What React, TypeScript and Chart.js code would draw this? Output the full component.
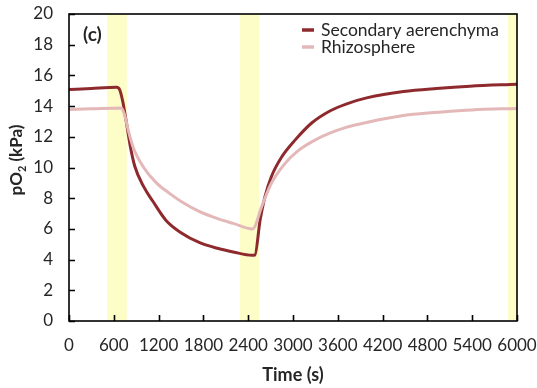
import { useEffect, useRef } from 'react';
import { Chart, registerables } from 'chart.js';

Chart.register(...registerables);

// ---- data ----
const seriesLabels = ['Secondary aerenchyma', 'Rhizosphere'];

const secondaryTime = [0, 300, 640, 680, 720, 770, 820, 880, 1000, 1130, 1300, 1500, 1750, 2000, 2200, 2450, 2490, 2560, 2625, 2710, 2850, 3030, 3250, 3500, 3720, 4000, 4480, 4920, 5370, 6000];
const secondaryPO2 = [15.08, 15.15, 15.22, 15.05, 14.3, 12.9, 11.4, 10.1, 8.75, 7.75, 6.55, 5.75, 5.1, 4.72, 4.5, 4.28, 4.3, 6.6, 8.1, 9.4, 10.7, 11.8, 12.9, 13.7, 14.15, 14.55, 14.95, 15.15, 15.3, 15.42];

const rhizoTime = [0, 300, 700, 740, 795, 860, 1000, 1170, 1350, 1530, 1750, 2000, 2200, 2460, 2580, 2710, 2900, 3070, 3300, 3500, 3700, 4000, 4500, 5000, 5400, 6000];
const rhizoPO2 = [13.78, 13.82, 13.88, 13.5, 12.4, 11.3, 10.0, 9.0, 8.3, 7.7, 7.12, 6.65, 6.36, 6.0, 7.45, 8.97, 10.3, 11.1, 11.8, 12.25, 12.6, 12.95, 13.4, 13.62, 13.75, 13.85];

const highlightStart = [510, 2290, 5880];
const highlightEnd = [775, 2545, 6000];

const xTickStep = 600;
const yTickStep = 2;
const panelLabel = '(c)';
const xTitle = 'Time (s)';

const FONT = 'Lato, "Open Sans", sans-serif';
const seriesColors = ['#8E2A2E', '#E4B8B8'];
const bandColor = '#FDFDC8';
const textColor = '#262626';

const decor = {
  id: 'decor',
  beforeDatasetsDraw(chart: any) {
    const { ctx, chartArea: a, scales } = chart;
    const x = scales.x;
    ctx.save();
    ctx.fillStyle = bandColor;
    for (let i = 0; i < highlightStart.length; i++) {
      const x0 = x.getPixelForValue(highlightStart[i]);
      const x1 = x.getPixelForValue(highlightEnd[i]);
      ctx.fillRect(x0, a.top, x1 - x0, a.bottom - a.top);
    }
    ctx.restore();
  },
  afterDatasetsDraw(chart: any) {
    const { ctx, chartArea: a, scales } = chart;
    const x = scales.x;
    const y = scales.y;
    ctx.save();
    // frame
    ctx.strokeStyle = '#000';
    ctx.lineWidth = 1.6;
    ctx.strokeRect(a.left, a.top, a.right - a.left, a.bottom - a.top);
    // inward ticks
    ctx.beginPath();
    for (const t of x.ticks) {
      const px = Math.round(x.getPixelForValue(t.value)) + 0.5;
      ctx.moveTo(px, a.bottom);
      ctx.lineTo(px, a.bottom - 6);
    }
    for (const t of y.ticks) {
      const py = Math.round(y.getPixelForValue(t.value)) + 0.5;
      ctx.moveTo(a.left, py);
      ctx.lineTo(a.left + 6, py);
    }
    ctx.stroke();

    // panel label
    ctx.fillStyle = textColor;
    ctx.font = `bold 19px ${FONT}`;
    ctx.textAlign = 'left';
    ctx.textBaseline = 'middle';
    ctx.fillText(panelLabel, a.left + 14, a.top + 21);

    // legend
    ctx.font = `17.5px ${FONT}`;
    seriesLabels.forEach((label, i) => {
      const ly = a.top + 16 + i * 17;
      ctx.strokeStyle = seriesColors[i];
      ctx.lineWidth = 3.5;
      ctx.beginPath();
      ctx.moveTo(302, ly);
      ctx.lineTo(314, ly);
      ctx.stroke();
      ctx.fillStyle = textColor;
      ctx.fillText(label, 321, ly);
    });

    // x title
    ctx.font = `bold 18px ${FONT}`;
    ctx.textAlign = 'center';
    ctx.fillText(xTitle, (a.left + a.right) / 2, 375);

    // y title with subscript
    ctx.translate(17, 160);
    ctx.rotate(-Math.PI / 2);
    const p1 = 'pO';
    const sub = '2';
    const p2 = ' (kPa)';
    ctx.font = `bold 17px ${FONT}`;
    const w1 = ctx.measureText(p1).width;
    const w3 = ctx.measureText(p2).width;
    ctx.font = `bold 11px ${FONT}`;
    const w2 = ctx.measureText(sub).width;
    const total = w1 + w2 + w3;
    let cx = -total / 2;
    ctx.textAlign = 'left';
    ctx.font = `bold 17px ${FONT}`;
    ctx.fillText(p1, cx, 0);
    cx += w1;
    ctx.font = `bold 11px ${FONT}`;
    ctx.fillText(sub, cx, 5);
    cx += w2;
    ctx.font = `bold 17px ${FONT}`;
    ctx.fillText(p2, cx, 0);
    ctx.restore();
  },
};

export default function App() {
  const ref = useRef<HTMLCanvasElement | null>(null);
  useEffect(() => {
    if (!ref.current) return;
    const datasets = [
      { label: seriesLabels[0], t: secondaryTime, v: secondaryPO2, color: seriesColors[0] },
      { label: seriesLabels[1], t: rhizoTime, v: rhizoPO2, color: seriesColors[1] },
    ].map((s) => ({
      label: s.label,
      data: s.t.map((t, i) => ({ x: t, y: s.v[i] })),
      borderColor: s.color,
      borderWidth: 3,
      pointRadius: 0,
      cubicInterpolationMode: 'monotone' as const,
      fill: false,
    }));
    const chart = new Chart(ref.current, {
      type: 'line',
      data: { datasets: datasets.reverse() as any },
      options: {
        animation: false,
        responsive: true,
        maintainAspectRatio: false,
        layout: { padding: { left: 0, top: 14, right: 20, bottom: 0 } },
        plugins: { legend: { display: false }, tooltip: { enabled: false }, title: { display: false } },
        scales: {
          x: {
            type: 'linear',
            min: 0,
            max: 6000,
            grid: { display: false, drawTicks: false },
            border: { display: false },
            ticks: {
              stepSize: xTickStep,
              color: textColor,
              font: { family: FONT, size: 17 },
              padding: 14,
              maxRotation: 0,
              autoSkip: false,
              callback: (v: any) => String(v),
            },
            afterFit(scale: any) {
              scale.height = 67;
              scale.paddingRight = 0;
              scale.paddingLeft = 0;
            },
          },
          y: {
            min: 0,
            max: 20,
            grid: { display: false, drawTicks: false },
            border: { display: false },
            ticks: { stepSize: yTickStep, color: textColor, font: { family: FONT, size: 17 }, padding: 16, callback: (v: any) => String(v) },
            afterFit(scale: any) {
              scale.width = 69;
              scale.paddingTop = 0;
              scale.paddingBottom = 0;
            },
          },
        },
      },
      plugins: [decor],
    });
    return () => chart.destroy();
  }, []);
  return (
    <div style={{ position: 'fixed', left: 0, top: 0, width: 537, height: 388, background: '#fff' }}>
      <canvas ref={ref} />
    </div>
  );
}
